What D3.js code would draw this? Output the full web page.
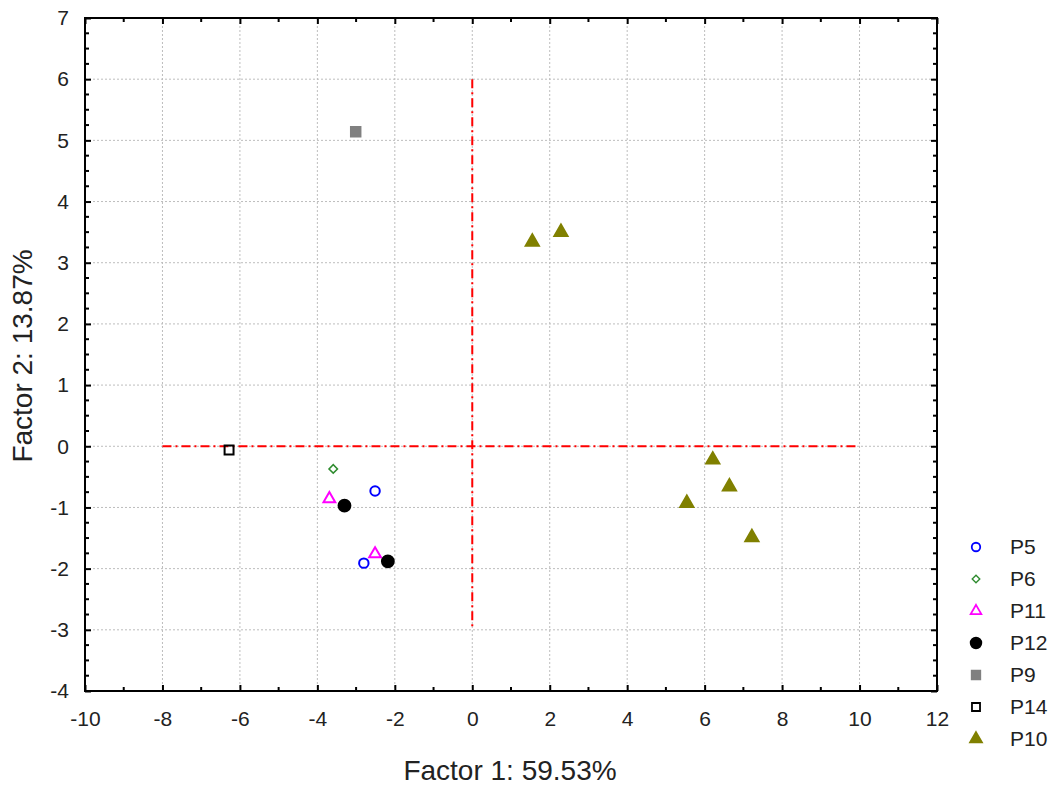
<!DOCTYPE html>
<html>
<head>
<meta charset="utf-8">
<script src="https://cdn.jsdelivr.net/npm/d3@7"></script>
<style>
  body { margin: 0; background: #fff; }
  svg text { font-family: "Liberation Sans", Arial, sans-serif; fill: #222; }
</style>
</head>
<body>
<div id="viz"></div>
<script>
// factor scores
const groups = ['P5', 'P6', 'P11', 'P12', 'P9', 'P14', 'P10'];
const p5 = [[-2.51, -0.73], [-2.80, -1.91]];
const p6 = [[-3.59, -0.37]];
const p11 = [[-3.69, -0.86], [-2.51, -1.76]];
const p12 = [[-3.30, -0.97], [-2.18, -1.88]];
const p9 = [[-3.01, 5.14]];
const p14 = [[-6.28, -0.06]];
const p10 = [[1.55, 3.34], [2.29, 3.50], [6.21, -0.22], [6.64, -0.66], [5.54, -0.93], [7.22, -1.49]];

const xTicks = [-10, -8, -6, -4, -2, 0, 2, 4, 6, 8, 10, 12];
const yTicks = [-4, -3, -2, -1, 0, 1, 2, 3, 4, 5, 6, 7];

const width = 1059;
const height = 786;
const m = { left: 85, right: 937, top: 18, bottom: 691 };

const svg = d3.select('#viz').append('svg')
  .attr('width', width)
  .attr('height', height);

const x = d3.scaleLinear().domain([-10, 12]).range([m.left, m.right]);
const y = d3.scaleLinear().domain([-4, 7]).range([m.bottom, m.top]);

// grid
const grid = svg.append('g')
  .attr('stroke', '#bdbdbd')
  .attr('stroke-width', 1)
  .attr('stroke-dasharray', '2,2');
grid.selectAll('line.gx')
  .data(xTicks.slice(1, -1))
  .enter().append('line')
  .attr('x1', d => x(d)).attr('x2', d => x(d))
  .attr('y1', m.top).attr('y2', m.bottom);
grid.selectAll('line.gy')
  .data(yTicks.slice(1, -1))
  .enter().append('line')
  .attr('y1', d => y(d)).attr('y2', d => y(d))
  .attr('x1', m.left).attr('x2', m.right);

// red origin lines
const red = svg.append('g')
  .attr('stroke', '#ff0000')
  .attr('stroke-width', 2)
  .attr('stroke-dasharray', '9,4,2,4');
red.append('line')
  .attr('x1', x(-8)).attr('x2', x(10))
  .attr('y1', y(0)).attr('y2', y(0));
red.append('line')
  .attr('x1', x(0)).attr('x2', x(0))
  .attr('y1', y(6)).attr('y2', y(-3));

// axes, ticks pointing inward on all four sides
const xMinor = d3.range(-9, 12, 2);
const yMinor = d3.range(-4, 7.01, 0.25).filter(v => v % 1 !== 0);
const plain = d => String(d);

const axB = d3.axisBottom(x).tickValues(xTicks).tickSize(-6).tickPadding(16).tickFormat(plain);
const axT = d3.axisTop(x).tickValues(xTicks).tickSize(-6).tickFormat('');
const axL = d3.axisLeft(y).tickValues(yTicks).tickSize(-6).tickPadding(16).tickFormat(plain);
const axR = d3.axisRight(y).tickValues(yTicks).tickSize(-6).tickFormat('');

function styleAxis(g) {
  g.select('.domain').remove();
  g.selectAll('.tick line').attr('stroke', '#000').attr('stroke-width', 2);
  g.selectAll('.tick text').attr('font-size', 21).attr('fill', '#222');
}

svg.append('g').attr('transform', `translate(0,${m.bottom})`).call(axB).call(styleAxis)
  .selectAll('.tick text').attr('dy', '0.9em');
svg.append('g').attr('transform', `translate(0,${m.top})`).call(axT).call(styleAxis);
svg.append('g').attr('transform', `translate(${m.left},0)`).call(axL).call(styleAxis);
svg.append('g').attr('transform', `translate(${m.right},0)`).call(axR).call(styleAxis);

// minor ticks
const minor = svg.append('g').attr('stroke', '#000').attr('stroke-width', 2);
xMinor.forEach(v => {
  minor.append('line').attr('x1', x(v)).attr('x2', x(v)).attr('y1', m.bottom).attr('y2', m.bottom - 4);
  minor.append('line').attr('x1', x(v)).attr('x2', x(v)).attr('y1', m.top).attr('y2', m.top + 4);
});
yMinor.forEach(v => {
  minor.append('line').attr('y1', y(v)).attr('y2', y(v)).attr('x1', m.left).attr('x2', m.left + 4);
  minor.append('line').attr('y1', y(v)).attr('y2', y(v)).attr('x1', m.right).attr('x2', m.right - 4);
});

// frame
svg.append('rect')
  .attr('x', m.left).attr('y', m.top)
  .attr('width', m.right - m.left).attr('height', m.bottom - m.top)
  .attr('fill', 'none').attr('stroke', '#000').attr('stroke-width', 2);

// symbols
const styles = {
  P5: { type: d3.symbolCircle, size: 70, fill: 'none', stroke: '#0000ff', rot: 0 },
  P6: { type: d3.symbolSquare, size: 36, fill: 'none', stroke: '#2e8b2e', rot: 45, sw: 1.5 },
  P11: { type: d3.symbolTriangle, size: 60, fill: 'none', stroke: '#ff00ff', rot: 0 },
  P12: { type: d3.symbolCircle, size: 110, fill: '#000', stroke: '#000', rot: 0 },
  P9: { type: d3.symbolSquare, size: 90, fill: '#808080', stroke: '#808080', rot: 0 },
  P14: { type: d3.symbolSquare, size: 80, fill: 'none', stroke: '#000', rot: 0 },
  P10: { type: d3.symbolTriangle, size: 75, fill: '#808000', stroke: '#808000', rot: 0 },
};
const seriesData = { P5: p5, P6: p6, P11: p11, P12: p12, P9: p9, P14: p14, P10: p10 };

const sym = name => d3.symbol().type(styles[name].type).size(styles[name].size)();

groups.forEach(name => {
  const s = styles[name];
  svg.append('g').selectAll('path')
    .data(seriesData[name])
    .enter().append('path')
    .attr('d', sym(name))
    .attr('transform', d => `translate(${x(d[0])},${y(d[1])}) rotate(${s.rot})`)
    .attr('fill', s.fill)
    .attr('stroke', s.stroke)
    .attr('stroke-width', s.sw || 2);
});

// legend
const legend = svg.append('g').attr('transform', 'translate(976,547)');
const item = legend.selectAll('g')
  .data(groups)
  .enter().append('g')
  .attr('transform', (d, i) => `translate(0,${i * 32})`);
item.append('path')
  .attr('d', d => sym(d))
  .attr('fill', d => styles[d].fill)
  .attr('stroke', d => styles[d].stroke)
  .attr('stroke-width', d => styles[d].sw || 2)
  .attr('transform', d => `scale(0.9) rotate(${styles[d].rot})`);
item.append('text')
  .attr('x', 34).attr('dy', '0.35em')
  .attr('font-size', 21)
  .text(d => d);

// axis titles
svg.append('text')
  .attr('x', 510).attr('y', 780)
  .attr('text-anchor', 'middle')
  .attr('font-size', 28)
  .text('Factor 1: 59.53%');
svg.append('text')
  .attr('transform', 'translate(32,356) rotate(-90)')
  .attr('text-anchor', 'middle')
  .attr('font-size', 28)
  .text('Factor 2: 13.87%');
</script>
</body>
</html>
